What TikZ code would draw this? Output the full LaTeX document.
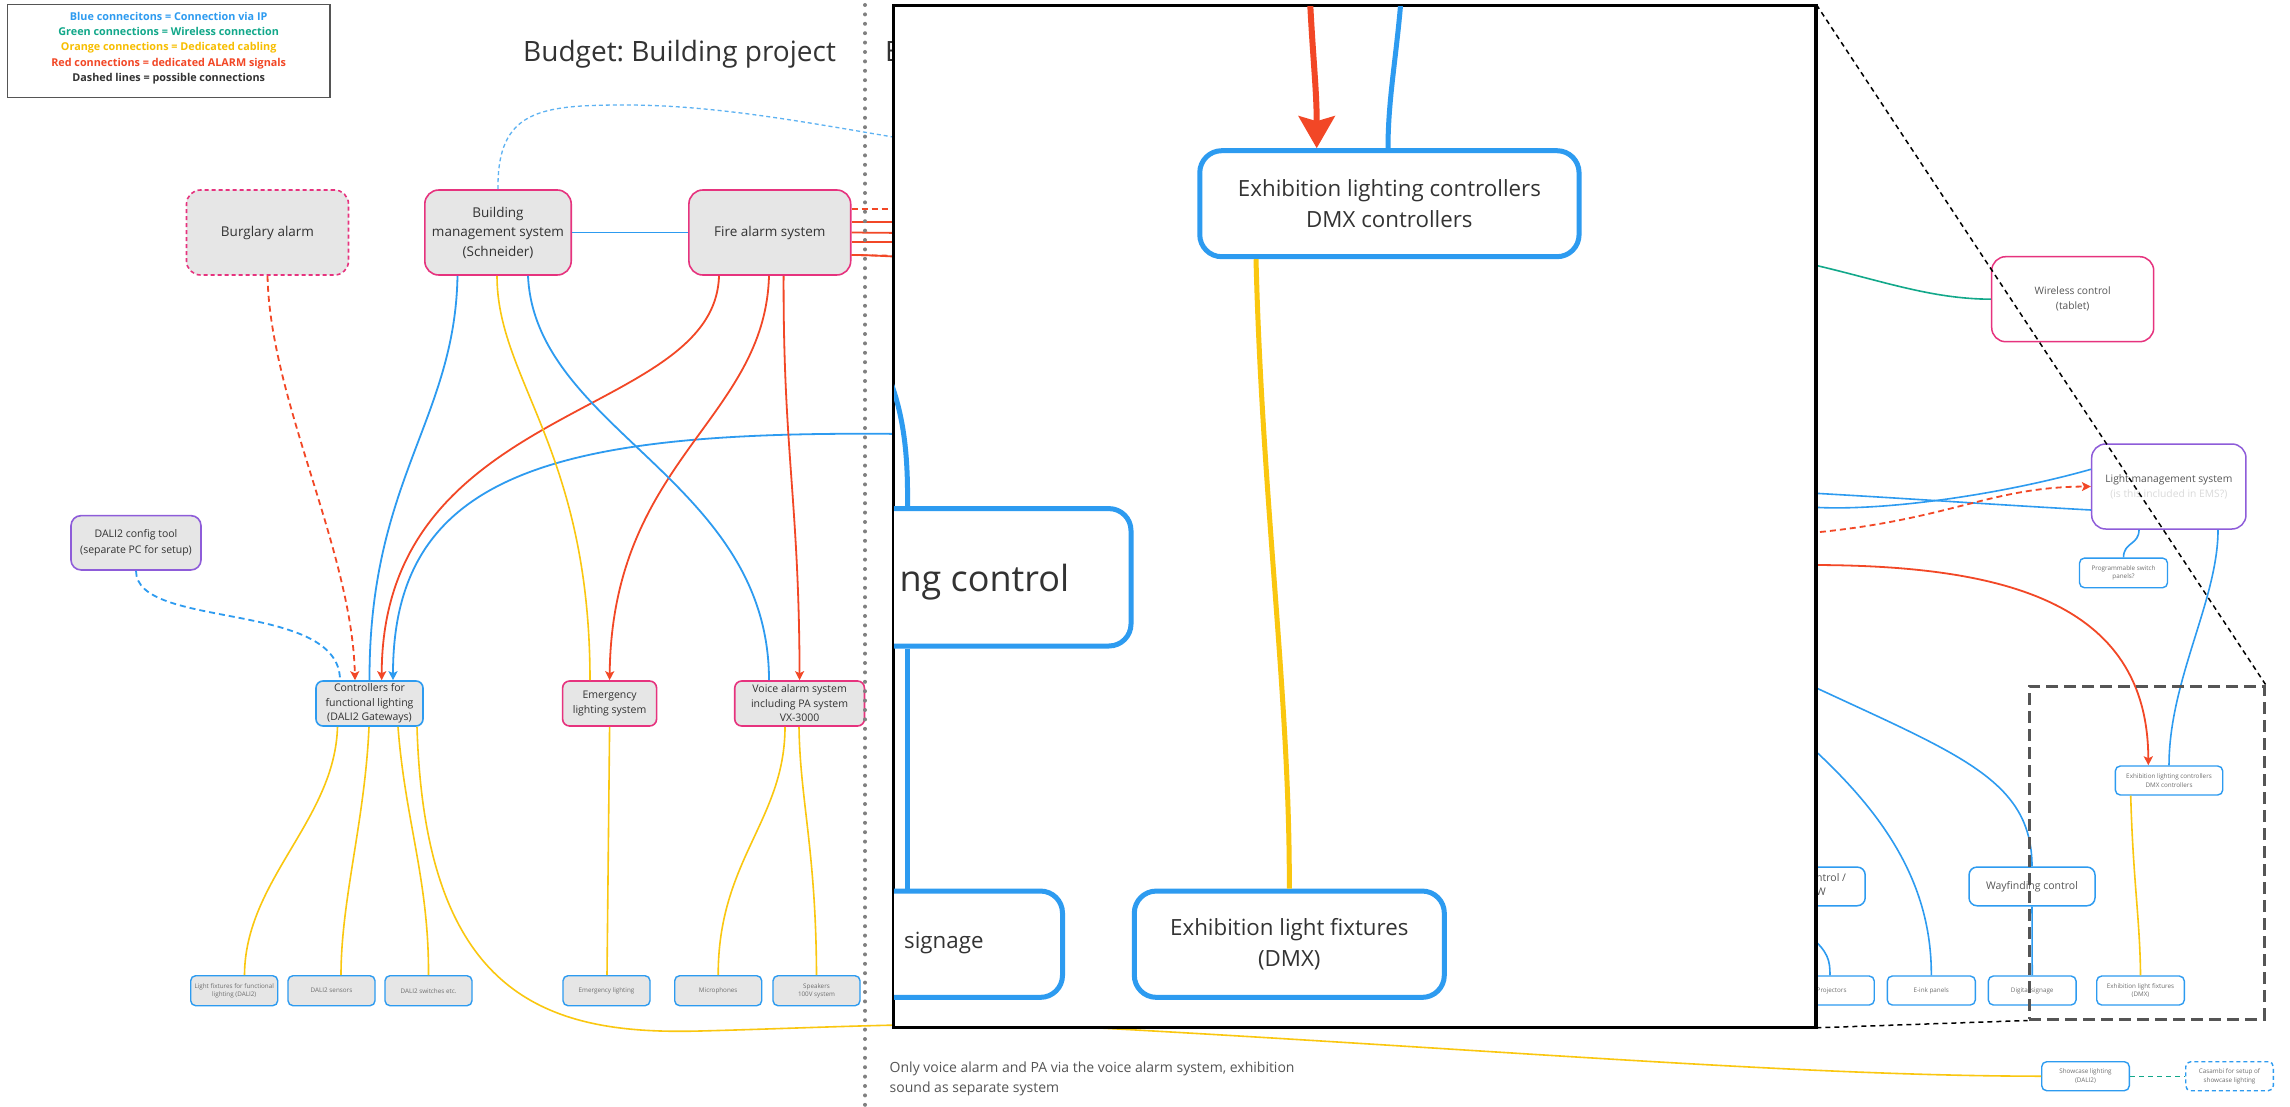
\documentclass[tikz,border=0pt]{standalone}
\usepackage{fontspec}
\setmainfont{Open Sans}
\usetikzlibrary{arrows.meta}
\frenchspacing

\definecolor{bluec}{HTML}{2D9BF0}
\definecolor{lightbluec}{HTML}{5DB2F2}
\definecolor{redc}{HTML}{F24726}
\definecolor{yelc}{HTML}{FAC710}
\definecolor{orangec}{HTML}{F7BE00}
\definecolor{greenc}{HTML}{12A88A}
\definecolor{pinkc}{HTML}{E6337E}
\definecolor{purplec}{HTML}{8E5CD9}
\definecolor{nodegray}{HTML}{E6E6E6}
\definecolor{dotgray}{HTML}{808080}
\definecolor{framegray}{HTML}{555555}
\definecolor{textdark}{HTML}{333333}
\definecolor{textmid}{HTML}{555555}
\definecolor{textsmall}{HTML}{6E6E6E}
\definecolor{textfaint}{HTML}{DADADA}

\newcommand\fsTitle{\fontsize{28}{34}\selectfont}
\newcommand\fsLegend{\bfseries\fontsize{10.8}{15.35}\selectfont}
\newcommand\fsBig{\fontsize{13.5}{19.5}\selectfont}
\newcommand\fsMid{\fontsize{10.5}{14.5}\selectfont}
\newcommand\fsDali{\fontsize{10.5}{15.6}\selectfont}
\newcommand\fsTiny{\fontsize{6.3}{8.6}\selectfont}
\newcommand\fsNote{\fontsize{14}{20}\selectfont}
\newcommand\fsRight{\fontsize{10.2}{15}\selectfont}
\newcommand\fsLms{\fontsize{10.3}{15}\selectfont}
\newcommand\fsMagA{\fontsize{22.3}{30.7}\selectfont}
\newcommand\fsMagB{\fontsize{36}{40}\selectfont}

\begin{document}
\begin{tikzpicture}[x=1pt,y=-1pt,
  bigpink/.style={draw=pinkc, fill=nodegray, line width=1.6pt, rounded corners=14pt,
    inner sep=0pt, align=center, text=textdark, font=\fsBig},
  midpink/.style={bigpink, rounded corners=7pt, font=\fsMid},
  midblue/.style={midpink, draw=bluec},
  midpurple/.style={midpink, draw=purplec, rounded corners=10pt, font=\fsDali},
  smallbox/.style={draw=bluec, fill=nodegray, line width=1.4pt, rounded corners=5pt,
    inner sep=0pt, align=center, text=textsmall, font=\fsTiny,
    minimum width=87pt, minimum height=30pt},
  rsmall/.style={smallbox, fill=white, text=textsmall},
  rbox/.style={draw=pinkc, fill=white, line width=1.5pt, rounded corners=14pt,
    inner sep=0pt, align=center, text=textmid, font=\fsRight},
  wbox/.style={draw=bluec, fill=white, line width=1.5pt, rounded corners=8pt,
    inner sep=0pt, align=center, text=textmid, font=\fsMid},
  mbox/.style={draw=bluec, fill=white, line width=5pt, rounded corners=22pt,
    inner sep=0pt, align=center, text=textdark},
  bl/.style={draw=bluec, line width=1.8pt},
  rd/.style={draw=redc, line width=1.8pt},
  yl/.style={draw=yelc, line width=1.6pt},
  gr/.style={draw=greenc, line width=1.6pt},
  tip/.style={-{Stealth[length=9pt,width=9pt,inset=2pt]}},
  possible/.style={dash pattern=on 6pt off 4pt},
  guide/.style={draw=black, line width=1.5pt, dash pattern=on 5pt off 4pt}
]
\useasboundingbox (0,0) rectangle (2290,1107);
\fill[white] (0,0) rectangle (2290,1107);

% ---------- legend and headings ----------
\node[draw=framegray, line width=1.5pt, fill=white, minimum width=322.5pt,
  minimum height=92.6pt, inner sep=0pt] (legend) at (168.7,51) {};
\node[align=center, inner sep=0pt, font=\fsLegend] (legendtext) at (168.7,48)
  {\textcolor{bluec}{Blue connecitons = Connection via IP}\\
   \textcolor{greenc}{Green connections = Wireless connection}\\
   \textcolor{orangec}{Orange connections = Dedicated cabling}\\
   \textcolor{redc}{Red connections = dedicated ALARM signals}\\
   \textcolor{textdark}{Dashed lines = possible connections}};
\node[anchor=base west, inner sep=0pt, font=\fsTitle, text=textdark] (title) at (523,62) {Budget: Building project};
\node[anchor=base west, inner sep=0pt, font=\fsTitle, text=textdark] (title2) at (885,62) {B};

% ---------- building project systems ----------
\node[bigpink, dash pattern=on 4pt off 3pt, minimum width=162pt, minimum height=85pt] (burg) at (267.5,232.5) {Burglary alarm};
\node[bigpink, minimum width=146.4pt, minimum height=85pt] (bms) at (498,232.5) {Building\\management system\\(Schneider)};
\node[bigpink, minimum width=161.8pt, minimum height=85pt] (fire) at (769.8,232.5) {Fire alarm system};
\node[midpurple, minimum width=130pt, minimum height=54.3pt] (dali) at (136,542.8) {DALI2 config tool\\(separate PC for setup)};
\node[midblue, minimum width=107pt, minimum height=45pt] (ctrl) at (369.5,703.5) {Controllers for\\functional lighting\\(DALI2 Gateways)};
\node[midpink, minimum width=94pt, minimum height=45pt] (emls) at (609.6,703.5) {Emergency\\lighting system};
\node[midpink, minimum width=129.7pt, minimum height=45pt] (voice) at (799.6,703.5) {Voice alarm system\\including PA system\\VX-3000};

\node[smallbox] (lf) at (234.2,990.7) {Light fixtures for functional\\lighting (DALI2)};
\node[smallbox] (sens) at (331.5,990.7) {DALI2 sensors};
\node[smallbox] (sw) at (428.5,990.7) {DALI2 switches etc.};
\node[smallbox] (el) at (606.5,990.7) {Emergency lighting};
\node[smallbox] (mic) at (718.2,990.7) {Microphones};
\node[smallbox] (spk) at (816.5,990.7) {Speakers\\100V system};

% connections between the building systems
\draw[bl] (bms.east) -- (fire.west);
\draw[draw=lightbluec, line width=1.3pt, dash pattern=on 4pt off 3pt]
  (bms.north) .. controls (497,110) and (540,105) .. (626,105)
  .. controls (720,105) and (820,125) .. (905,139);
\draw[rd] ([yshift=-9.5pt]fire.east) -- (905,242);
\draw[rd] ([yshift=10.5pt]fire.east) -- (905,222);
\draw[rd] (fire.east) -- (905,233);
\draw[rd, possible] ([yshift=23.5pt]fire.east) -- (905,209);
\draw[rd, possible] ([yshift=-22.5pt]fire.east) -- (905,256);
\draw[rd] ([yshift=-22.5pt]fire.east) .. controls (870,255) and (880,256) .. (905,257);

\draw[rd, possible, tip] (burg.south) .. controls (270,400) and (352,550) .. ([xshift=-14.5pt]ctrl.north);
\draw[bl] ([xshift=-40.5pt]bms.south) .. controls (455,420) and (369,480) .. (ctrl.north);
\draw[rd, tip] ([xshift=-50.8pt]fire.south) .. controls (715,420) and (382,400) .. ([xshift=12.2pt]ctrl.north);
\coordinate (ipin) at (905,434);
\draw[bl, tip] (ipin) .. controls (560,430) and (393,470) .. ([xshift=23.5pt]ctrl.north);
\draw[draw=bluec, line width=1.8pt, dash pattern=on 6pt off 4pt]
  (dali.south) .. controls (136,630) and (340,600) .. ([xshift=-29.5pt]ctrl.north);
\draw[yl] ([xshift=-1pt]bms.south) .. controls (497,380) and (590,450) .. ([xshift=-19.6pt]emls.north);
\draw[rd, tip] ([xshift=-0.8pt]fire.south) .. controls (765,420) and (612,460) .. (emls.north);
\draw[bl] ([xshift=30pt]bms.south) .. controls (535,430) and (769,480) .. ([xshift=-30.6pt]voice.north);
\draw[rd, tip] ([xshift=13.8pt]fire.south) .. controls (783,450) and (799,500) .. (voice.north);

% dedicated cabling to field devices
\draw[yl] ([xshift=-32pt]ctrl.south) .. controls (335,820) and (245,880) .. ([xshift=10.3pt]lf.north);
\draw[yl] ([xshift=-0.5pt]ctrl.south) .. controls (365,820) and (341,900) .. ([xshift=9.5pt]sens.north);
\draw[yl] ([xshift=28.5pt]ctrl.south) .. controls (405,820) and (429,880) .. (sw.north);
\draw[yl] (emls.south) -- ([xshift=0.5pt]el.north);
\draw[yl] ([xshift=-14.6pt]voice.south) .. controls (785,820) and (718,860) .. (mic.north);
\draw[yl] ([xshift=-0.6pt]voice.south) .. controls (800,800) and (816,850) .. (spk.north);

% ---------- exhibition side ----------
\node[rbox, minimum width=162pt, minimum height=85pt] (wir) at (2072.7,299.2) {Wireless control\\(tablet)};
\node[rbox, draw=purplec, minimum width=154.3pt, minimum height=85pt, font=\fsLms] (lms) at (2168.8,486.5)
  {Light management system\\\textcolor{textfaint}{(is this included in EMS?)}};
\node[rsmall, minimum width=88pt, minimum height=29.7pt] (prog) at (2123.5,572.9) {Programmable switch\\panels?};
\node[rsmall, minimum width=107.4pt, minimum height=29pt] (exc) at (2169,780.5) {Exhibition lighting controllers\\DMX controllers};
\node[wbox, minimum width=125pt, minimum height=38.7pt] (av) at (1802.7,886.4) {};
\node[anchor=north west, align=left, inner sep=0pt, font=\fsMid, text=textmid] (avtext) at (1816,873) {ntrol /\\W};
\node[wbox, minimum width=126pt, minimum height=38.7pt] (way) at (2032,886.4) {Wayfinding control};
\node[rsmall, minimum width=85.3pt, minimum height=29pt] (proj) at (1831.6,990.5) {Projectors};
\node[rsmall, minimum width=88pt, minimum height=29pt] (eink) at (1931.3,990.5) {E-ink panels};
\node[rsmall, minimum width=87.7pt, minimum height=29pt] (dsig) at (2032.2,990.5) {Digital signage};
\node[rsmall, minimum width=87.6pt, minimum height=29pt] (exf) at (2140.5,990.5) {Exhibition light fixtures\\(DMX)};
\node[rsmall, minimum width=87.6pt, minimum height=29pt] (show) at (2085.5,1076.2) {Showcase lighting\\(DALI2)};
\node[rsmall, dash pattern=on 4pt off 3pt, minimum width=87.6pt, minimum height=29pt] (cas) at (2229.5,1076.2) {Casambi for setup of\\showcase lighting};

\coordinate (wlsrc) at (1810,264);
\coordinate (lmsa) at (1810,493);
\coordinate (lmsb) at (1810,507);
\coordinate (lmsc) at (1810,533);
\coordinate (alarmsrc) at (1810,565);
\coordinate (waysrc) at (1810,685);
\coordinate (einksrc) at (1810,746);
\coordinate (projsrc) at (1810,936);

\draw[gr] (wlsrc) .. controls (1880,280) and (1930,299) .. (wir.west);
\draw[bl, line width=1.6pt] (lmsa) .. controls (1900,498) and (2000,505) .. ([yshift=-23.5pt]lms.west);
\draw[bl, line width=1.6pt] (lmsb) .. controls (1880,512) and (2000,495) .. ([yshift=17.2pt]lms.west);
\draw[rd, possible, tip] (lmsc) .. controls (1950,520) and (1990,487) .. (lms.west);
\draw[rd, tip] (alarmsrc) .. controls (2000,565) and (2148,600) .. ([xshift=-20.7pt]exc.north);
\draw[bl, line width=1.6pt] ([xshift=49.2pt]lms.south) .. controls (2218,600) and (2169,680) .. (exc.north);
\draw[bl, line width=1.6pt] ([xshift=-29.8pt]lms.south) .. controls (2139,545) and (2123.6,542) .. (prog.north);
\draw[bl, line width=1.6pt] (waysrc) .. controls (1960,755) and (2031.7,780) .. (way.north);
\draw[bl, line width=1.6pt] (einksrc) .. controls (1880,810) and (1931.7,880) .. (eink.north);
\draw[bl, line width=1.6pt] (projsrc) .. controls (1828,952) and (1830,960) .. ([xshift=-1.6pt]proj.north);
\draw[bl, line width=1.6pt] (way.south) -- (dsig.north);
\draw[yl] ([xshift=-38.3pt]exc.south) .. controls (2133,880) and (2140,920) .. (exf.north);
\draw[draw=greenc, line width=1.4pt, dash pattern=on 5pt off 4pt] (show.east) -- (cas.west);

% showcase lighting cabling from the DALI2 gateways
\draw[yl] ([xshift=47.5pt]ctrl.south) .. controls (425,1000) and (550,1035) .. (700,1031)
  .. controls (850,1027) and (950,1020) .. (1100,1028)
  .. controls (1500,1050) and (1800,1076) .. (show.west);

% dotted divider between the two budgets
\foreach \dy in {5,14.4,...,1107} {
  \fill[dotgray] (865,\dy) circle (2pt);
}

\node[anchor=north west, align=left, inner sep=0pt, font=\fsNote, text=textmid] (note) at (889.5,1062)
  {Only voice alarm and PA via the voice alarm system, exhibition\\sound as separate system};

% ---------- enlarged detail of the exhibition lighting ----------
\node[draw=black, line width=2.2pt, fill=white, minimum width=921.4pt, minimum height=1020.9pt,
  inner sep=0pt] (mag) at (1354.6,516.25) {};
\begin{scope}
  \clip (mag.north west) rectangle (mag.south east);
  \node[mbox, minimum width=379.3pt, minimum height=106pt, font=\fsMagA] (mexc) at (1389.4,203.7)
    {Exhibition lighting controllers\\DMX controllers};
  \node[mbox, minimum width=310pt, minimum height=106.3pt, font=\fsMagA] (mexf) at (1289.3,944.2)
    {Exhibition light fixtures\\(DMX)};
  \node[mbox, minimum width=481pt, minimum height=137.4pt] (mway) at (890.5,577.3) {};
  \node[anchor=base east, inner sep=0pt, font=\fsMagB, text=textdark] (mwaytext) at (1069.4,591) {ng control};
  \node[mbox, minimum width=362.5pt, minimum height=106.3pt] (msig) at (881.25,944.2) {};
  \node[anchor=base west, inner sep=0pt, font=\fsMagA, text=textdark] (msigtext) at (904,948) {signage};
  \coordinate (mredtop) at (1310,0);
  \coordinate (mbluetop) at (1401,0);
  \coordinate (mwayin) at (890,380);
  \draw[draw=redc, line width=6pt, -{Stealth[length=32pt,width=36pt,inset=5pt]}]
    (mredtop) .. controls (1313,60) and (1316.7,90) .. ([xshift=-72.7pt]mexc.north);
  \draw[draw=bluec, line width=5pt] (mbluetop) .. controls (1396,60) and (1388,100) .. ([xshift=-1.4pt]mexc.north);
  \draw[draw=yelc, line width=5pt] ([xshift=-133.4pt]mexc.south) .. controls (1262,500) and (1290,700) .. (mexf.north);
  \draw[draw=bluec, line width=5pt] (mwayin) .. controls (905,420) and (908,460) .. ([xshift=17pt]mway.north);
  \draw[draw=bluec, line width=5pt] ([xshift=17pt]mway.south) -- ([xshift=26.25pt]msig.north);
\end{scope}
\draw[black, line width=2.2pt] (mag.north west) rectangle (mag.south east);

% detail frame and its guide lines
\node[draw=framegray, line width=3pt, dash pattern=on 12pt off 6pt, minimum width=235pt,
  minimum height=333pt, inner sep=0pt] (detail) at (2146.5,852.5) {};
\draw[guide] (mag.north east) -- (detail.north east);
\draw[guide] (mag.south east) -- (detail.south west);
\end{tikzpicture}
\end{document}
